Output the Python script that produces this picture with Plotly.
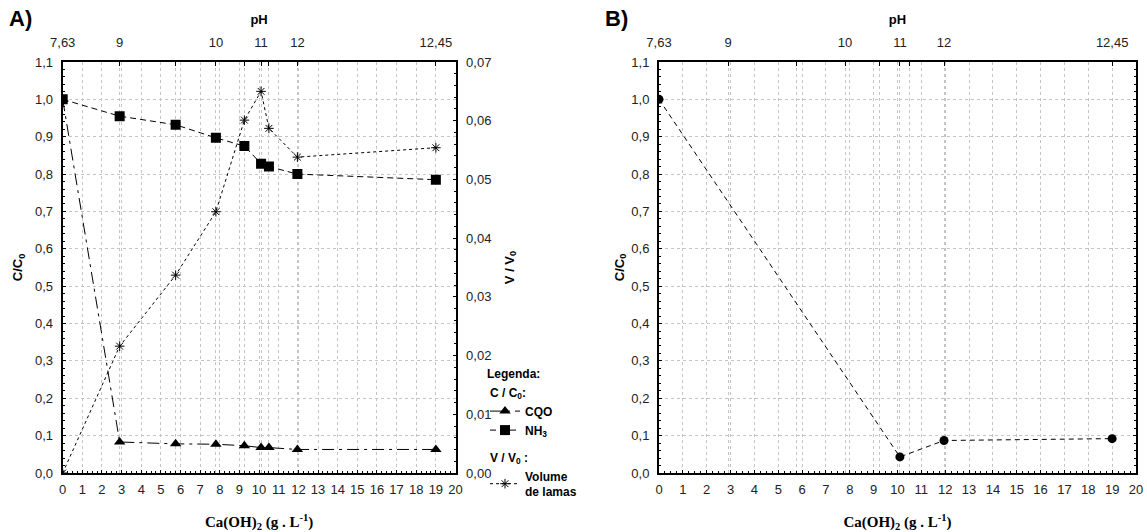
import plotly.graph_objects as go

# Ca(OH)2 dose (g/L) for each test
dose = [0, 2.9, 5.75, 7.8, 9.25, 10.1, 10.5, 11.95, 19]
# relative concentration C/C0
cqo = [1.0, 0.083, 0.078, 0.077, 0.073, 0.068, 0.068, 0.063, 0.063]
nh3 = [1.0, 0.955, 0.932, 0.897, 0.875, 0.828, 0.820, 0.800, 0.785]
# sludge volume V/V0
volume = [0.0, 0.0216, 0.0337, 0.0445, 0.0601, 0.0650, 0.0587, 0.0538, 0.0554]

# panel B
dose_b = [0, 10.1, 11.95, 19]
conc_b = [1.0, 0.043, 0.087, 0.092]

# pH scale on the top axis
ph_pos = [0, 2.9, 5.75, 7.8, 9.25, 10.1, 10.5, 11.95, 19]
ph_text = ["7,63", "9", "", "10", "", "11", "", "12", "12,45"]

W, H = 1147, 532
FONT = "Liberation Sans, Arial, sans-serif"
GRID = "#c4c4c4"

fig = go.Figure()

fig.add_trace(go.Scatter(
    x=dose, y=cqo, mode="lines+markers", name="<b>CQO</b>",
    legendgroup="c", legendgrouptitle=dict(text="<b>C / C<sub>0</sub>:</b>"),
    line=dict(color="black", width=1, dash="12px,5px,3px,5px"),
    marker=dict(symbol="triangle-up", size=10, color="black"),
    xaxis="x", yaxis="y"))
fig.add_trace(go.Scatter(
    x=dose, y=nh3, mode="lines+markers", name="<b>NH<sub>3</sub></b>",
    legendgroup="c",
    line=dict(color="black", width=1, dash="6px,4px"),
    marker=dict(symbol="square", size=10, color="black"),
    xaxis="x", yaxis="y"))
fig.add_trace(go.Scatter(
    x=dose, y=volume, mode="lines+markers", name="<b>Volume<br>de lamas</b>",
    legendgroup="v", legendgrouptitle=dict(text="<b>V / V<sub>0</sub> :</b>"),
    line=dict(color="black", width=1, dash="dot"),
    marker=dict(symbol="asterisk-open", size=8, color="black",
                line=dict(color="black", width=1)),
    xaxis="x", yaxis="y2"))
fig.add_trace(go.Scatter(
    x=dose_b, y=conc_b, mode="lines+markers", showlegend=False,
    line=dict(color="black", width=1, dash="5px,4px"),
    marker=dict(symbol="circle", size=9, color="black"),
    xaxis="x3", yaxis="y3"))

# empty traces so the pH axes are laid out on both panels
for xax, yax in (("x2", "y"), ("x4", "y3")):
    fig.add_trace(go.Scatter(x=ph_pos, y=[None] * len(ph_pos), mode="markers",
                             showlegend=False, hoverinfo="skip",
                             xaxis=xax, yaxis=yax))

xa = 62.7 / W, 455.5 / W
xb = 659 / W, 1136 / W
yd = 1 - 473 / H, 1 - 62 / H

tickfont = dict(family=FONT, size=13, color="#222")
minor = dict(ticks="inside", ticklen=2, tickcolor="black", showgrid=False)


def bottom_axis(domain, anchor):
    return dict(
        domain=domain, anchor=anchor, range=[0, 20], tick0=0, dtick=1,
        automargin=False,
        showgrid=True, gridcolor=GRID, gridwidth=1, griddash="dot",
        zeroline=False, showline=True, linecolor="black", linewidth=2,
        mirror=True, ticks="inside", ticklen=3, tickcolor="black",
        ticklabelstandoff=3,
        minor=dict(minor, dtick=0.25),
        tickfont=tickfont,
        title=dict(text="<b>Ca(OH)<sub>2</sub> (g . L<sup>-1</sup>)</b>",
                   font=dict(family="Liberation Serif, Times New Roman, serif",
                             size=15, color="black"),
                   standoff=22))


def top_axis(over, anchor):
    return dict(
        overlaying=over, anchor=anchor, side="top", range=[0, 20],
        automargin=False,
        tickmode="array", tickvals=ph_pos, ticktext=ph_text,
        showgrid=True, gridcolor=GRID, gridwidth=1, griddash="dot",
        zeroline=False, showline=False, ticks="inside", ticklen=4,
        tickcolor="black", tickfont=tickfont, ticklabelstandoff=11,
        title=dict(text="<b>pH</b>", font=dict(family=FONT, size=13, color="black"),
                   standoff=7))


def left_axis(domain, anchor, standoff):
    return dict(
        domain=domain, anchor=anchor, range=[0, 1.1], tick0=0, dtick=0.1,
        automargin=False,
        tickformat=".1f", showgrid=True, gridcolor=GRID, gridwidth=1,
        griddash="dot", zeroline=False, showline=True, linecolor="black",
        linewidth=2, ticks="inside", ticklen=3, tickcolor="black",
        ticklabelstandoff=5,
        minor=dict(minor, dtick=0.02),
        tickfont=tickfont,
        title=dict(text="<b>C/C<sub>0</sub></b>",
                   font=dict(family=FONT, size=13, color="black"),
                   standoff=standoff))


yb = left_axis(yd, "x3", 4)
yb.update(mirror="ticks")

fig.update_layout(
    width=W, height=H, margin=dict(l=0, r=0, t=0, b=0),
    paper_bgcolor="white", plot_bgcolor="white",
    separators=",.",
    font=dict(family=FONT, color="black"),
    xaxis=bottom_axis(xa, "y"),
    xaxis2=top_axis("x", "y"),
    yaxis=left_axis(yd, "x", 9),
    yaxis2=dict(
        overlaying="y", anchor="x", side="right", range=[0, 0.07],
        automargin=False,
        tick0=0, dtick=0.01, tickformat=".2f", showgrid=False, zeroline=False,
        showline=True, linecolor="black", linewidth=2,
        ticks="inside", ticklen=3, tickcolor="black", ticklabelstandoff=6,
        minor=dict(minor, dtick=0.002),
        tickfont=tickfont,
        title=dict(text="<b>V / V<sub>0</sub></b>",
                   font=dict(family=FONT, size=13, color="black"), standoff=14)),
    xaxis3=bottom_axis(xb, "y3"),
    xaxis4=top_axis("x3", "y3"),
    yaxis3=yb,
    legend=dict(
        x=485 / W, y=1 - 362 / H, xanchor="left", yanchor="top",
        bgcolor="rgba(0,0,0,0)", borderwidth=0,
        title=dict(text="<b>Legenda:</b>", font=dict(family=FONT, size=12)),
        font=dict(family=FONT, size=12, color="black"),
        grouptitlefont=dict(family=FONT, size=12, color="black"),
        tracegroupgap=8, itemwidth=30),
    annotations=[
        dict(text="<b>A)</b>", x=7 / W, y=1 - 18 / H, xref="paper", yref="paper",
             xanchor="left", yanchor="middle", showarrow=False,
             font=dict(family=FONT, size=22, color="black")),
        dict(text="<b>B)</b>", x=603 / W, y=1 - 18 / H, xref="paper", yref="paper",
             xanchor="left", yanchor="middle", showarrow=False,
             font=dict(family=FONT, size=22, color="black")),
    ],
)

fig.write_html("out.html")
